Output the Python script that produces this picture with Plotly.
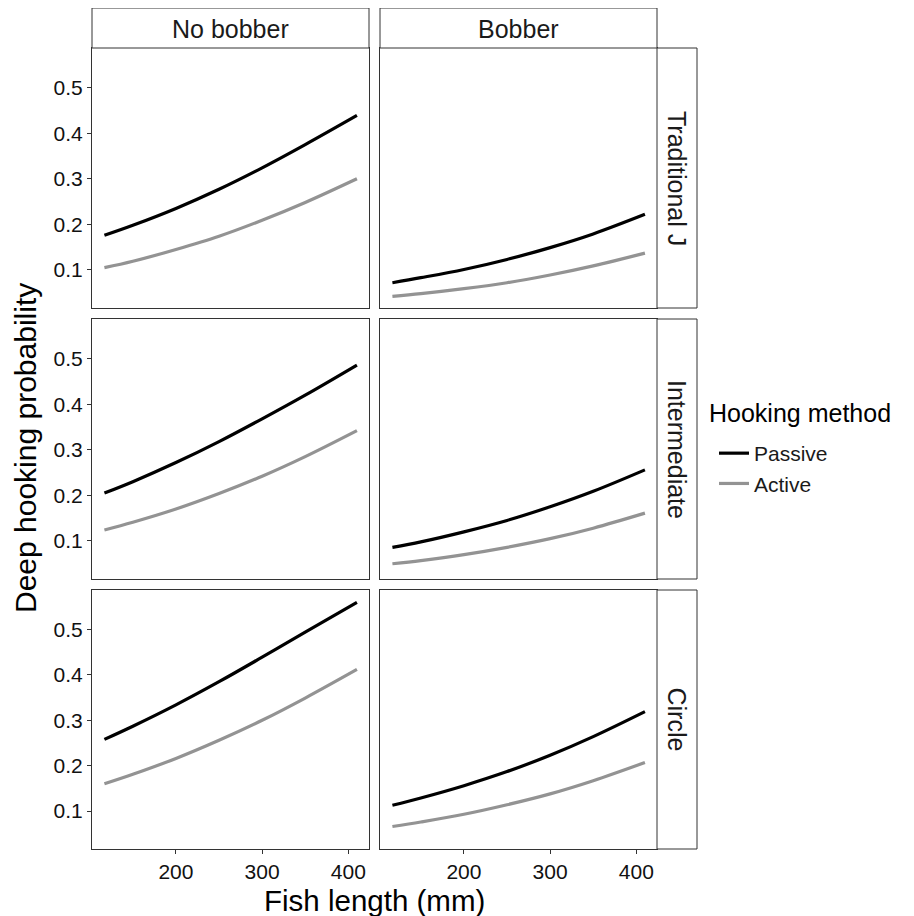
import plotly.graph_objects as go

# ---------------- data ----------------
fish_length = [117, 150, 200, 250, 300, 350, 410]

floats = ["No bobber", "Bobber"]
hooks = ["Traditional J", "Intermediate", "Circle"]
methods = ["Passive", "Active"]

# No bobber
nb_tradj_passive = [0.176, 0.198, 0.235, 0.277, 0.324, 0.375, 0.439]
nb_tradj_active = [0.105, 0.119, 0.145, 0.174, 0.209, 0.248, 0.300]
nb_inter_passive = [0.205, 0.230, 0.272, 0.318, 0.368, 0.420, 0.486]
nb_inter_active = [0.124, 0.141, 0.170, 0.204, 0.242, 0.285, 0.342]
nb_circle_passive = [0.258, 0.287, 0.334, 0.385, 0.439, 0.494, 0.560]
nb_circle_active = [0.160, 0.181, 0.216, 0.256, 0.300, 0.349, 0.412]
# Bobber
b_tradj_passive = [0.072, 0.083, 0.101, 0.123, 0.149, 0.179, 0.222]
b_tradj_active = [0.042, 0.048, 0.059, 0.072, 0.089, 0.109, 0.137]
b_inter_passive = [0.086, 0.098, 0.120, 0.145, 0.175, 0.209, 0.256]
b_inter_active = [0.050, 0.057, 0.070, 0.086, 0.105, 0.128, 0.161]
b_circle_passive = [0.113, 0.129, 0.156, 0.187, 0.223, 0.264, 0.319]
b_circle_active = [0.066, 0.076, 0.093, 0.114, 0.138, 0.167, 0.207]

x_ticks = [200, 300, 400]
y_ticks = [0.1, 0.2, 0.3, 0.4, 0.5]
y_tick_labels = ["0.1", "0.2", "0.3", "0.4", "0.5"]

series = {
    ("Traditional J", "No bobber"): (nb_tradj_passive, nb_tradj_active),
    ("Traditional J", "Bobber"): (b_tradj_passive, b_tradj_active),
    ("Intermediate", "No bobber"): (nb_inter_passive, nb_inter_active),
    ("Intermediate", "Bobber"): (b_inter_passive, b_inter_active),
    ("Circle", "No bobber"): (nb_circle_passive, nb_circle_active),
    ("Circle", "Bobber"): (b_circle_passive, b_circle_active),
}

# ---------------- layout geometry (page pixels) ----------------
OFF = 8  # default body margin of the html page
W, H = 914 - OFF, 916 - OFF
col_px = [(92, 369), (380, 657)]
row_px = [(48, 308), (319, 579), (590, 849)]
strip_top = (8, 48)
strip_right = (657, 697)

def px_x(v):
    return (v - OFF) / W

def px_y(v):
    return 1 - (v - OFF) / H

colors = {"Passive": "#000000", "Active": "#939393"}
FONT = "Liberation Sans, Arial, sans-serif"
DARK = "#333333"

fig = go.Figure()
layout = {}

idx = 0
for r, hook in enumerate(hooks):
    for c, fl in enumerate(floats):
        idx += 1
        xa = "x" if idx == 1 else f"x{idx}"
        ya = "y" if idx == 1 else f"y{idx}"
        passive, active = series[(hook, fl)]
        for m, vals in zip(methods, (passive, active)):
            fig.add_trace(go.Scatter(
                x=fish_length, y=vals, mode="lines",
                line=dict(color=colors[m], width=3.2, shape="spline"),
                name=m, legendgroup=m, showlegend=(idx == 1),
                xaxis=xa, yaxis=ya,
            ))
        x0, x1 = col_px[c]
        y0, y1 = row_px[r]
        layout[f"xaxis{'' if idx == 1 else idx}"] = dict(
            domain=[px_x(x0), px_x(x1)], anchor=ya, range=[102.6, 424],
            tickvals=x_ticks, showticklabels=(r == 2),
            ticks="outside" if r == 2 else "", ticklen=4, tickcolor=DARK, tickwidth=1,
            showline=True, mirror=True, linecolor=DARK, linewidth=1,
            showgrid=False, zeroline=False,
            tickfont=dict(size=21, color="#111111", family=FONT),
        )
        layout[f"yaxis{'' if idx == 1 else idx}"] = dict(
            domain=[px_y(y1), px_y(y0)], anchor=xa, range=[0.0165, 0.587],
            tickvals=y_ticks, ticktext=y_tick_labels, showticklabels=(c == 0),
            ticks="outside" if c == 0 else "", ticklen=4, tickcolor=DARK, tickwidth=1,
            showline=True, mirror=True, linecolor=DARK, linewidth=1,
            showgrid=False, zeroline=False,
            tickfont=dict(size=21, color="#111111", family=FONT),
        )

shapes = []
annotations = []
# top strips
for c, fl in enumerate(floats):
    x0, x1 = col_px[c]
    shapes.append(dict(type="rect", xref="paper", yref="paper",
                       x0=px_x(x0), x1=px_x(x1), y0=px_y(strip_top[1]), y1=px_y(strip_top[0]),
                       line=dict(color=DARK, width=1), fillcolor="white"))
    annotations.append(dict(text=fl, xref="paper", yref="paper",
                            x=px_x((x0 + x1) / 2), y=px_y((strip_top[0] + strip_top[1]) / 2 + 1),
                            showarrow=False, xanchor="center", yanchor="middle",
                            font=dict(size=25, color="#1a1a1a", family=FONT)))
# right strips
for r, hook in enumerate(hooks):
    y0, y1 = row_px[r]
    shapes.append(dict(type="rect", xref="paper", yref="paper",
                       x0=px_x(strip_right[0]), x1=px_x(strip_right[1]), y0=px_y(y1), y1=px_y(y0),
                       line=dict(color=DARK, width=1), fillcolor="white"))
    annotations.append(dict(text=hook, xref="paper", yref="paper",
                            x=px_x((strip_right[0] + strip_right[1]) / 2), y=px_y((y0 + y1) / 2),
                            showarrow=False, xanchor="center", yanchor="middle", textangle=90,
                            font=dict(size=25, color="#1a1a1a", family=FONT)))
# axis titles
annotations.append(dict(text="Fish length (mm)", xref="paper", yref="paper",
                        x=px_x(374.5), y=px_y(900), showarrow=False,
                        xanchor="center", yanchor="middle",
                        font=dict(size=29.5, color="#000000", family=FONT)))
annotations.append(dict(text="Deep hooking probability", xref="paper", yref="paper",
                        x=px_x(25), y=px_y(448), showarrow=False, textangle=-90,
                        xanchor="center", yanchor="middle",
                        font=dict(size=30, color="#000000", family=FONT)))
# legend title
annotations.append(dict(text="Hooking method", xref="paper", yref="paper",
                        x=px_x(707), y=px_y(413), showarrow=False,
                        xanchor="left", yanchor="middle",
                        font=dict(size=25, color="#000000", family=FONT)))

fig.update_layout(
    width=W, height=H,
    margin=dict(l=0, r=0, t=0, b=0),
    paper_bgcolor="white", plot_bgcolor="white",
    shapes=shapes, annotations=annotations,
    showlegend=True,
    legend=dict(
        x=px_x(714), y=px_y(433), xanchor="left", yanchor="top",
        font=dict(size=21, color="#1a1a1a", family=FONT),
        bgcolor="rgba(0,0,0,0)", tracegroupgap=0, itemwidth=30,
    ),
    **layout,
)

fig.write_html("out.html")
